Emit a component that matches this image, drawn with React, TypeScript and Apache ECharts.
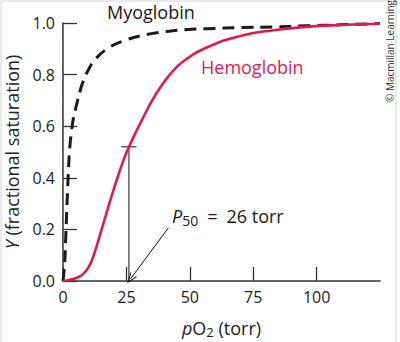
import React, { useEffect, useRef } from "react";
import * as echarts from "echarts";

const myoPO2 = [0, 0.6, 1.0, 1.4, 1.8, 2.2, 2.7, 3.4, 4.1, 5.4, 6.7, 8, 10, 12.6, 17.9, 24.5, 32, 40, 48, 57, 70, 83, 96, 109, 125];
const myoY = [0, 0.06, 0.15, 0.25, 0.35, 0.44, 0.52, 0.585, 0.63, 0.685, 0.735, 0.775, 0.818, 0.858, 0.903, 0.933, 0.953, 0.966, 0.974, 0.978, 0.982, 0.985, 0.989, 0.993, 0.998];

const hbPO2 = [0, 2, 4.7, 7, 8.7, 10, 11.3, 12.5, 14, 16.6, 19.2, 21.8, 24.5, 26.4, 28.5, 31, 36.5, 42.5, 47.5, 56.7, 69.9, 83, 96, 109, 125];
const hbY = [0, 0.003, 0.01, 0.02, 0.035, 0.052, 0.078, 0.112, 0.159, 0.245, 0.33, 0.41, 0.485, 0.528, 0.572, 0.622, 0.722, 0.805, 0.852, 0.905, 0.95, 0.972, 0.985, 0.992, 0.997];

const xTicks = [0, 25, 50, 75, 100];
const yTicks = [0, 0.2, 0.4, 0.6, 0.8, 1.0];

const p50 = 26;
const p50Y = 0.52;
const capHalf = 3;
const arrowFrom = [41.5, 0.205];
const arrowTo = [26.6, 0.008];

const FONT = "Open Sans";
const RED = "#e5174f";

export default function App() {
  const ref = useRef<HTMLDivElement>(null);
  useEffect(() => {
    document.body.style.margin = "0";
    const chart = echarts.init(ref.current!, null, { renderer: "svg" });
    const zip = (a: number[], b: number[]) => a.map((v, i) => [v, b[i]]);
    chart.setOption({
      animation: false,
      backgroundColor: "#fff",
      grid: { left: 63, right: 20, top: 23, bottom: 61, containLabel: false, outerBoundsMode: "none" },
      xAxis: {
        type: "value",
        min: 0,
        max: 125,
        interval: 25,
        splitLine: { show: false },
        axisLine: { lineStyle: { color: "#333", width: 1.5 } },
        axisTick: { inside: true, length: 14, customValues: xTicks, lineStyle: { color: "#333", width: 1.3 } },
        axisLabel: { customValues: xTicks, margin: 8, fontSize: 16, fontFamily: FONT, color: "#222" },
        name: "{i|p}O{sub|2} (torr)",
        nameLocation: "middle",
        nameGap: 36,
        nameTextStyle: {
          fontSize: 18,
          fontFamily: FONT,
          color: "#222",
          rich: {
            i: { fontSize: 18, fontFamily: FONT, fontStyle: "italic", color: "#222" },
            sub: { fontSize: 13, fontFamily: FONT, color: "#222", verticalAlign: "bottom", padding: [8, 0, 0, 0] },
          },
        },
      },
      yAxis: {
        type: "value",
        min: 0,
        max: 1,
        interval: 0.2,
        splitLine: { show: false },
        axisLine: { show: true, lineStyle: { color: "#333", width: 1.5 } },
        axisTick: { show: true, inside: true, length: 14, customValues: yTicks, lineStyle: { color: "#333", width: 1.3 } },
        axisLabel: {
          customValues: yTicks,
          margin: 8,
          fontSize: 16,
          fontFamily: FONT,
          color: "#222",
          formatter: (v: number) => v.toFixed(1),
        },
        name: "{i|Y} (fractional saturation)",
        nameLocation: "middle",
        nameGap: 42,
        nameTextStyle: {
          fontSize: 18,
          fontFamily: FONT,
          color: "#222",
          rich: { i: { fontSize: 18, fontFamily: FONT, fontStyle: "italic", color: "#222" } },
        },
      },
      series: [
        {
          name: "Myoglobin",
          type: "line",
          data: zip(myoPO2, myoY),
          smooth: 0.5,
          symbol: "none",
          lineStyle: { color: "#1a1a1a", width: 3, type: [12, 7] },
          z: 3,
        },
        {
          name: "Hemoglobin",
          type: "line",
          data: zip(hbPO2, hbY),
          smooth: 0.5,
          symbol: "none",
          lineStyle: { color: RED, width: 2.6 },
          z: 4,
        },
        {
          name: "P50",
          type: "line",
          data: [[p50, 0], [p50, p50Y]],
          symbol: "none",
          lineStyle: { color: "#111", width: 1 },
          z: 2,
          markLine: {
            silent: true,
            symbol: ["none", "path://M5,0 L10,10 L8.8,10 L5,2.4 L1.2,10 L0,10 Z"],
            symbolSize: [8, 11],
            label: { show: false },
            lineStyle: { color: "#111", width: 1, type: "solid" },
            data: [[{ coord: arrowFrom }, { coord: arrowTo }]],
          },
        },
        {
          name: "P50cap",
          type: "line",
          data: [[p50 - capHalf, p50Y], [p50 + capHalf, p50Y]],
          symbol: "none",
          lineStyle: { color: "#111", width: 1 },
          z: 2,
        },
      ],
      graphic: [
        {
          type: "rect",
          shape: { x: 1, y: 1, width: 395, height: 360 },
          style: { fill: "none", stroke: "#d4d4d4", lineWidth: 1 },
          silent: true,
        },
        {
          type: "text",
          x: 107,
          y: 12,
          style: { text: "Myoglobin", font: `18px "${FONT}"`, fill: "#1a1a1a", textAlign: "left", textVerticalAlign: "middle" },
        },
        {
          type: "text",
          x: 201,
          y: 67,
          style: { text: "Hemoglobin", font: `18px "${FONT}"`, fill: RED, textAlign: "left", textVerticalAlign: "middle" },
        },
        {
          type: "text",
          x: 172,
          y: 216,
          style: {
            text: "{i|P}{sub|50}\u2002=\u200226 torr",
            font: `18px "${FONT}"`,
            fill: "#1a1a1a",
            textAlign: "left",
            textVerticalAlign: "middle",
            rich: {
              i: { fontSize: 18, fontFamily: FONT, fontStyle: "italic", fill: "#1a1a1a" },
              sub: { fontSize: 14, fontFamily: FONT, fill: "#1a1a1a", verticalAlign: "bottom", padding: [9, 0, 0, 0] },
            },
          },
        },
        {
          type: "text",
          x: 390,
          y: 51,
          rotation: Math.PI / 2,
          style: { text: "© Macmillan Learning", font: `10px "${FONT}"`, fill: "#333", textAlign: "center", textVerticalAlign: "middle" },
        },
      ],
    });
    return () => chart.dispose();
  }, []);
  return <div ref={ref} style={{ position: "absolute", left: 0, top: 0, width: 400, height: 342 }} />;
}
